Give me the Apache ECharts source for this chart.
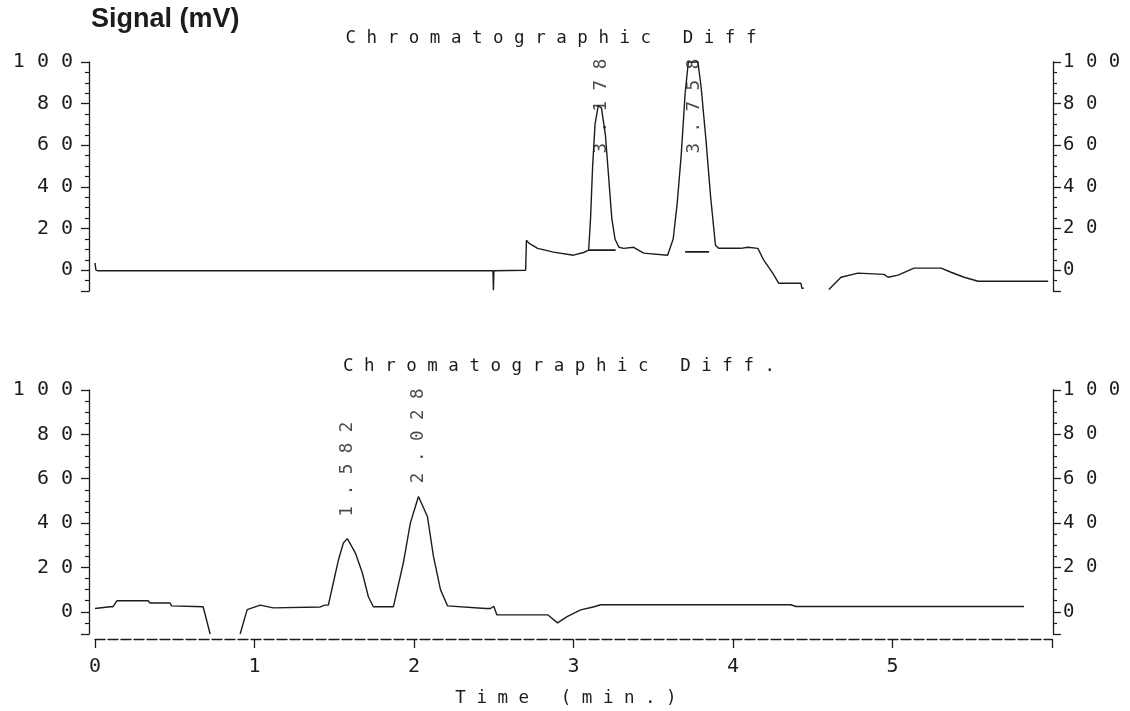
<!DOCTYPE html>
<html>
<head>
<meta charset="utf-8">
<script src="https://cdn.jsdelivr.net/npm/echarts@6/dist/echarts.min.js"></script>
<style>
  html, body { margin: 0; padding: 0; background: #fff; }
  #main { width: 1130px; height: 711px; }
</style>
</head>
<body>
<div id="main"></div>
<script>
// top trace (time in min, signal in mV), '-' = pen lifted
var topTime   = [0, 0.006, 0.02, 2.495, 2.498, 2.501, 2.70, 2.705, 2.72, 2.775, 2.875, 3.0, 3.063, 3.095,
                 3.107, 3.12, 3.135, 3.155, 3.175, 3.2, 3.22, 3.24, 3.26, 3.285, 3.315, 3.377, 3.44, 3.59,
                 3.60, 3.625, 3.65, 3.675, 3.70, 3.72, 3.78, 3.80, 3.83, 3.86, 3.89, 3.91, 4.049, 4.093,
                 4.156, 4.193, 4.25, 4.287, 4.426, 4.432, 4.444, 4.52, 4.601, 4.677, 4.783, 4.947, 4.972,
                 5.035, 5.135, 5.305, 5.367, 5.449, 5.537, 5.976];
var topSignal = [3.5, 0, -0.3, -0.3, -9.6, -0.3, 0, 14.4, 13, 10.5, 8.7, 7.2, 8.5, 9.6,
                 25, 50, 70, 79, 78, 65, 45, 25, 15, 11, 10.5, 11, 8.2, 7.2,
                 7.5, 15, 32, 55, 85, 100, 100, 88, 63, 35, 12, 10.5, 10.5, 11,
                 10.5, 4.8, -1.5, -6.3, -6.3, -8.7, -8.7, '-', -9.3, -3.4, -1.4, -2, -3.4,
                 -2.4, 1, 1, -1, -3.4, -5.3, -5.3];

// integration baselines drawn under the top peaks
var baseTime   = [3.095, 3.264, 3.264, 3.70, 3.85];
var baseSignal = [9.6, 9.6, '-', 8.8, 8.8];

// bottom trace
var botTime   = [0, 0.094, 0.113, 0.138, 0.333, 0.345, 0.471, 0.48, 0.678, 0.69, 0.722, 0.80, 0.91,
                 0.954, 1.036, 1.117, 1.412, 1.44, 1.463, 1.494, 1.525, 1.557, 1.582, 1.632, 1.676, 1.714,
                 1.745, 1.871, 1.933, 1.977, 2.028, 2.084, 2.122, 2.166, 2.21, 2.45, 2.48, 2.5, 2.52, 2.84,
                 2.9, 2.96, 3.045, 3.13, 3.17, 4.363, 4.394, 5.825];
var botSignal = [1.5, 2.3, 2.3, 5, 5, 4, 4, 2.7, 2.3, 2.3, -10, '-', -10,
                 1, 3, 1.8, 2.2, 3, 3, 13, 23, 31, 33, 26.6, 17.6, 6.8,
                 2.3, 2.3, 22, 40, 52, 43, 25, 10, 2.7, 1.5, 1.5, 2.5, -1.4, -1.4,
                 -5, -2.2, 0.9, 2.3, 3.2, 3.2, 2.4, 2.4];

// retention time labels
var topPeakNames  = ['3.178', '3.758'];
var topPeakTimes  = [3.178, 3.758];
var topPeakLabelY = [56, 56];
var botPeakNames  = ['1.582', '2.028'];
var botPeakTimes  = [1.582, 2.028];
var botPeakLabelY = [43, 58];

var ink = '#1c1c1c';
var mono = 'DejaVu Sans Mono';

function spaced(s) {
    return String(s).split('').join(' ');
}

function pairs(xs, ys) {
    return xs.map(function (x, i) { return [x, ys[i]]; });
}

function peakItems(names, times, ys) {
    return names.map(function (n, i) { return { name: n, value: [times[i], ys[i]] }; });
}

function yAxisFor(grid, side) {
    return {
        type: 'value',
        gridIndex: grid,
        position: side,
        offset: side === 'left' ? 6 : 1,
        min: -10,
        max: 100,
        minInterval: 20,
        maxInterval: 20,
        splitNumber: 5,
        axisLine: { show: true, onZero: false, lineStyle: { color: ink, width: 1.3 } },
        axisTick: { show: true, length: 8, lineStyle: { color: ink, width: 1.3 } },
        minorTick: { show: true, splitNumber: 4, length: 4, lineStyle: { color: ink, width: 1.2 } },
        splitLine: { show: false },
        axisLabel: {
            margin: side === 'left' ? 16 : 10,
            color: ink,
            fontFamily: mono,
            fontSize: side === 'left' ? 20 : 19,
            formatter: function (v) { return v < 0 ? '' : spaced(v); }
        }
    };
}

var chart = echarts.init(document.getElementById('main'));

var option = {
    backgroundColor: '#fff',
    animation: false,
    title: [
        {
            text: 'Signal (mV)', left: 86, top: 1,
            textStyle: { fontFamily: 'Liberation Sans', fontSize: 27, fontWeight: 'bold', color: ink }
        },
        {
            text: spaced('Chromatographic Diff'), left: 546, top: 24, textAlign: 'center',
            textStyle: { fontFamily: mono, fontSize: 17.5, fontWeight: 'normal', color: ink }
        },
        {
            text: spaced('Chromatographic Diff.'), left: 554, top: 352, textAlign: 'center',
            textStyle: { fontFamily: mono, fontSize: 17.5, fontWeight: 'normal', color: ink }
        },
        {
            text: spaced('Time (min.)'), left: 561, top: 684, textAlign: 'center',
            textStyle: { fontFamily: mono, fontSize: 17.5, fontWeight: 'normal', color: ink }
        }
    ],
    grid: [
        { left: 95, width: 957, top: 62, height: 229 },
        { left: 95, width: 957, top: 390, height: 244 }
    ],
    xAxis: [
        { type: 'value', gridIndex: 0, min: 0, max: 6, interval: 1, show: false },
        {
            type: 'value', gridIndex: 1, min: 0, max: 6, interval: 1, offset: 5, position: 'bottom',
            axisLine: { show: true, onZero: false, lineStyle: { color: ink, width: 1.3, type: [10, 3] } },
            axisTick: { show: true, length: 9, lineStyle: { color: ink, width: 1.3 } },
            splitLine: { show: false },
            axisLabel: {
                margin: 18, color: ink, fontFamily: mono, fontSize: 20,
                formatter: function (v) { return v >= 6 ? '' : String(v); }
            }
        }
    ],
    yAxis: [
        yAxisFor(0, 'left'),
        yAxisFor(0, 'right'),
        yAxisFor(1, 'left'),
        yAxisFor(1, 'right')
    ],
    series: [
        {
            name: 'top', type: 'line', xAxisIndex: 0, yAxisIndex: 0,
            data: pairs(topTime, topSignal), showSymbol: false, connectNulls: false,
            lineStyle: { color: ink, width: 1.4 }
        },
        {
            name: 'top baseline', type: 'line', xAxisIndex: 0, yAxisIndex: 0,
            data: pairs(baseTime, baseSignal), showSymbol: false, connectNulls: false,
            lineStyle: { color: ink, width: 1.8 }
        },
        {
            name: 'top peaks', type: 'scatter', xAxisIndex: 0, yAxisIndex: 0,
            data: peakItems(topPeakNames, topPeakTimes, topPeakLabelY), symbolSize: 0,
            label: {
                show: true, position: 'inside', rotate: 90, align: 'left', verticalAlign: 'middle',
                fontFamily: mono, fontSize: 17.5, color: ink,
                formatter: function (p) { return spaced(p.name); }
            }
        },
        {
            name: 'bottom', type: 'line', xAxisIndex: 1, yAxisIndex: 2,
            data: pairs(botTime, botSignal), showSymbol: false, connectNulls: false,
            lineStyle: { color: ink, width: 1.4 }
        },
        {
            name: 'bottom peaks', type: 'scatter', xAxisIndex: 1, yAxisIndex: 2,
            data: peakItems(botPeakNames, botPeakTimes, botPeakLabelY), symbolSize: 0,
            label: {
                show: true, position: 'inside', rotate: 90, align: 'left', verticalAlign: 'middle',
                fontFamily: mono, fontSize: 17.5, color: ink,
                formatter: function (p) { return spaced(p.name); }
            }
        }
    ]
};

chart.setOption(option);
</script>
</body>
</html>
